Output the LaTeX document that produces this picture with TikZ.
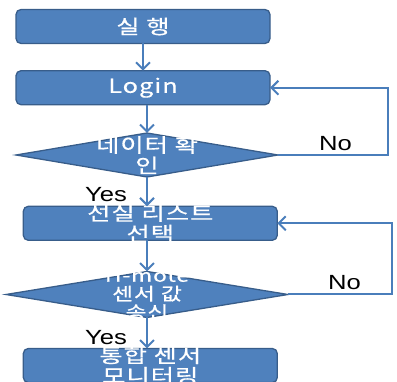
\documentclass[tikz,border=0pt]{standalone}
\usepackage{fontspec}
\newfontfamily\krfont[FakeStretch=1.3,LetterSpace=5,FakeBold=0.5]{Noto Sans CJK KR}
\newfontfamily\lblfont[FakeStretch=1.25]{Liberation Sans}
\usetikzlibrary{shapes.geometric,arrows.meta}
\definecolor{boxblue}{HTML}{4F81BD}
\definecolor{boxline}{HTML}{385D8A}
\definecolor{flowblue}{HTML}{4A7EBB}
\tikzset{
    box/.style={rectangle, rounded corners=5pt, fill=boxblue, draw=boxline, line width=1.3pt,
        minimum width=254pt, minimum height=34pt, inner sep=0pt, outer sep=0pt},
    decision/.style={diamond, fill=boxblue, draw=boxline, line width=1.3pt, inner sep=0pt, outer sep=0pt}
}
\tikzset{
    btext/.style={text=white, align=center, inner sep=0pt, font=\krfont\fontsize{19.5}{20.5}\selectfont},
    answer/.style={anchor=base west, inner sep=0pt, font=\lblfont\fontsize{20.5}{22}\selectfont},
    flow/.style={draw=flowblue, line width=2pt, -{Straight Barb[length=7pt,width=14pt]}}
}

\begin{document}
\begin{tikzpicture}[x=1pt, y=-1pt]
        \useasboundingbox (0,0) rectangle (397,382);
        \node[box] (run) at (143,26.5) {};
        \node[box] (login) at (143,87.7) {};
        \node[decision, minimum width=262pt, minimum height=44pt] (check) at (147,155) {};
        \node[box] (select) at (150.3,223.3) {};
        \node[decision, minimum width=282pt, minimum height=46pt] (recv) at (147,294.5) {};
        \node[box] (monitor) at (150.3,365.5) {};
        % texts in the shapes
        \node[btext] (runtxt) at (run) {실 행};
        \node[btext] (logintxt) at (login) {Login};
        \node[btext] (checktxt) at (check) {네이터 확\\인};
        \node[btext] (selecttxt) at (select) {선실 리스트\\선택};
        \node[btext, font=\krfont\fontsize{17.5}{18.5}\selectfont] (recvtxt) at (recv) {H-mote\\센서 값\\송신};
        \node[btext] (monitortxt) at (monitor) {통합 센서\\모니터링};
        % answers
        \node[answer] (yes1) at (85,201.7) {Yes};
        \node[answer] (no1) at (319,151) {No};
        \node[answer] (yes2) at (85,345) {Yes};
        \node[answer] (no2) at (328,289.3) {No};
        % connectors
        \draw[flow] (run) -- (login);
        \draw[flow] (login.south -| check.north) -- (check.north);
        \draw[flow] (check.south) -- (check.south |- select.north);
        \draw[flow] (select.south -| recv.north) -- (recv.north);
        \draw[flow] (recv.south) -- (recv.south |- monitor.north);
        \draw[flow] (check.east) -- (387.7,155) |- (login.east);
        \draw[flow] (recv.east) -- (391.7,294.5) |- (select.east);
\end{tikzpicture}
\end{document}
